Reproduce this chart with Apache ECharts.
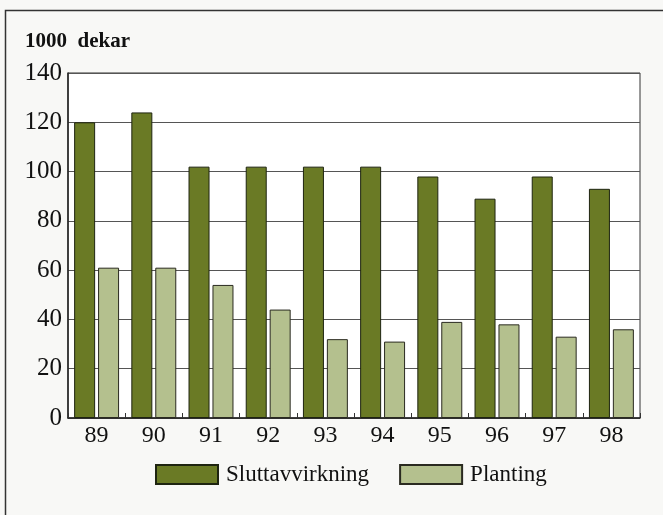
<!DOCTYPE html>
<html>
<head>
<meta charset="utf-8">
<script src="https://cdn.jsdelivr.net/npm/echarts@6/dist/echarts.min.js"></script>
<style>
  html, body { margin: 0; padding: 0; background: #f8f8f6; }
  #chart { width: 663px; height: 515px; }
</style>
</head>
<body>
<div id="chart"></div>
<script>
// år (x-akse)
const years = ['89', '90', '91', '92', '93', '94', '95', '96', '97', '98']
// 1000 dekar
const sluttavvirkning = [120, 124, 102, 102, 102, 102, 98, 89, 98, 93]
const planting = [61, 61, 54, 44, 32, 31, 39, 38, 33, 36]

const serif = '"Liberation Serif", "DejaVu Serif", serif'
const chart = echarts.init(document.getElementById('chart'))

chart.setOption({
  backgroundColor: '#f8f8f6',
  animation: false,
  graphic: [
    {
      type: 'rect',
      shape: { x: 5.5, y: 10.5, width: 670, height: 520 },
      style: { fill: 'none', stroke: '#333', lineWidth: 1.5 },
      z: -1
    },
    {
      type: 'text',
      left: 25,
      top: 31,
      style: { text: '1000  dekar', font: 'bold 21px ' + serif, fill: '#111' }
    }
  ],
  grid: {
    left: 68, right: 23, top: 73, bottom: 97,
    show: true, backgroundColor: '#fff', borderColor: '#333', borderWidth: 1
  },
  legend: {
    left: 155, top: 463, padding: 0,
    itemWidth: 62, itemHeight: 19, itemGap: 30,
    icon: 'rect',
    textStyle: { fontFamily: serif, fontSize: 23, color: '#111', padding: [0, 0, 0, 3] },
    data: ['Sluttavvirkning', 'Planting']
  },
  xAxis: {
    type: 'category',
    data: years,
    axisLine: { lineStyle: { color: '#222', width: 1.5 } },
    axisTick: { show: true, inside: true, length: 5, lineStyle: { color: '#333' } },
    axisLabel: { fontFamily: serif, fontSize: 24, color: '#111', margin: 6 }
  },
  yAxis: {
    type: 'value',
    min: 0, max: 140, interval: 20,
    axisLine: { show: true, lineStyle: { color: '#222', width: 1.5 } },
    axisTick: { show: false },
    splitLine: { lineStyle: { color: '#555', width: 1 } },
    axisLabel: { fontFamily: serif, fontSize: 25, color: '#111', margin: 6 }
  },
  series: [
    {
      name: 'Sluttavvirkning',
      type: 'bar',
      data: sluttavvirkning,
      barWidth: 21,
      barGap: '14%',
      itemStyle: { color: '#6a7a25', borderColor: '#1e2410', borderWidth: 1 }
    },
    {
      name: 'Planting',
      type: 'bar',
      data: planting,
      barWidth: 21,
      itemStyle: { color: '#b4c08e', borderColor: '#2a2a20', borderWidth: 1 }
    }
  ]
})
</script>
</body>
</html>
